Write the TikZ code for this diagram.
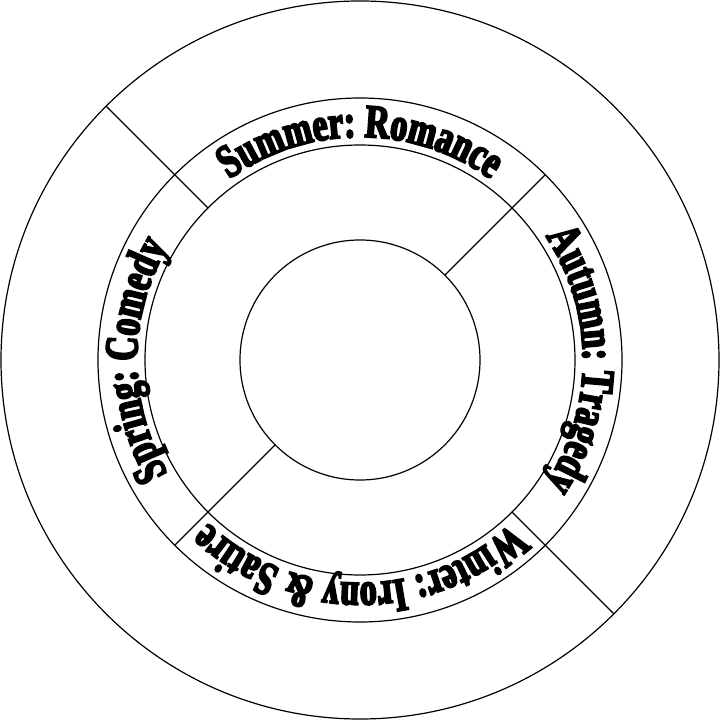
\documentclass[tikz,border=0pt]{standalone}
\usepackage{fontspec}
\usetikzlibrary{decorations.text}
\newfontfamily\seasonfont[FakeStretch=0.72,FakeBold=4]{Liberation Serif Bold}
\tikzset{
  ring/.style={draw=black, line width=1.2pt},
  divider/.style={draw=black, line width=1.2pt},
  season/.style={decorate, decoration={text along path, text align=center,
      text={|\seasonfont\fontsize{47pt}{52pt}\selectfont|#1}}}
}
\begin{document}
\begin{tikzpicture}[x=1pt,y=1pt]
\useasboundingbox (-360pt,-362pt) rectangle (362pt,360pt);
\fill[white] (-360pt,-362pt) rectangle (362pt,360pt);
% rings
\draw[ring] (0,0) circle[radius=359pt];
\draw[ring] (0,0) circle[radius=262pt];
\draw[ring] (0,0) circle[radius=215pt];
\draw[ring] (0,0) circle[radius=120pt];
% divider end points
\coordinate (nwOut) at (135:359pt);
\coordinate (nwIn)  at (135:215pt);
\coordinate (neOut) at (45:262pt);
\coordinate (neIn)  at (45:120pt);
\coordinate (seOut) at (-45:359pt);
\coordinate (seIn)  at (-45:215pt);
\coordinate (swOut) at (225:262pt);
\coordinate (swIn)  at (225:120pt);
\draw[divider] (nwOut) -- (nwIn);
\draw[divider] (neOut) -- (neIn);
\draw[divider] (seIn) -- (seOut);
\draw[divider] (swOut) -- (swIn);
% texts
\path[season={Summer: Romance}] (180:223pt) arc[start angle=180, end angle=0, radius=223pt];
\path[season={Autumn: Tragedy}] (90:223pt) arc[start angle=90, end angle=-90, radius=223pt];
\path[season={Winter: Irony {\&} Satire}] (0:223pt) arc[start angle=0, end angle=-180, radius=223pt];
\path[season={Spring: Comedy}] (270:223pt) arc[start angle=270, end angle=90, radius=223pt];
\end{tikzpicture}
\end{document}
